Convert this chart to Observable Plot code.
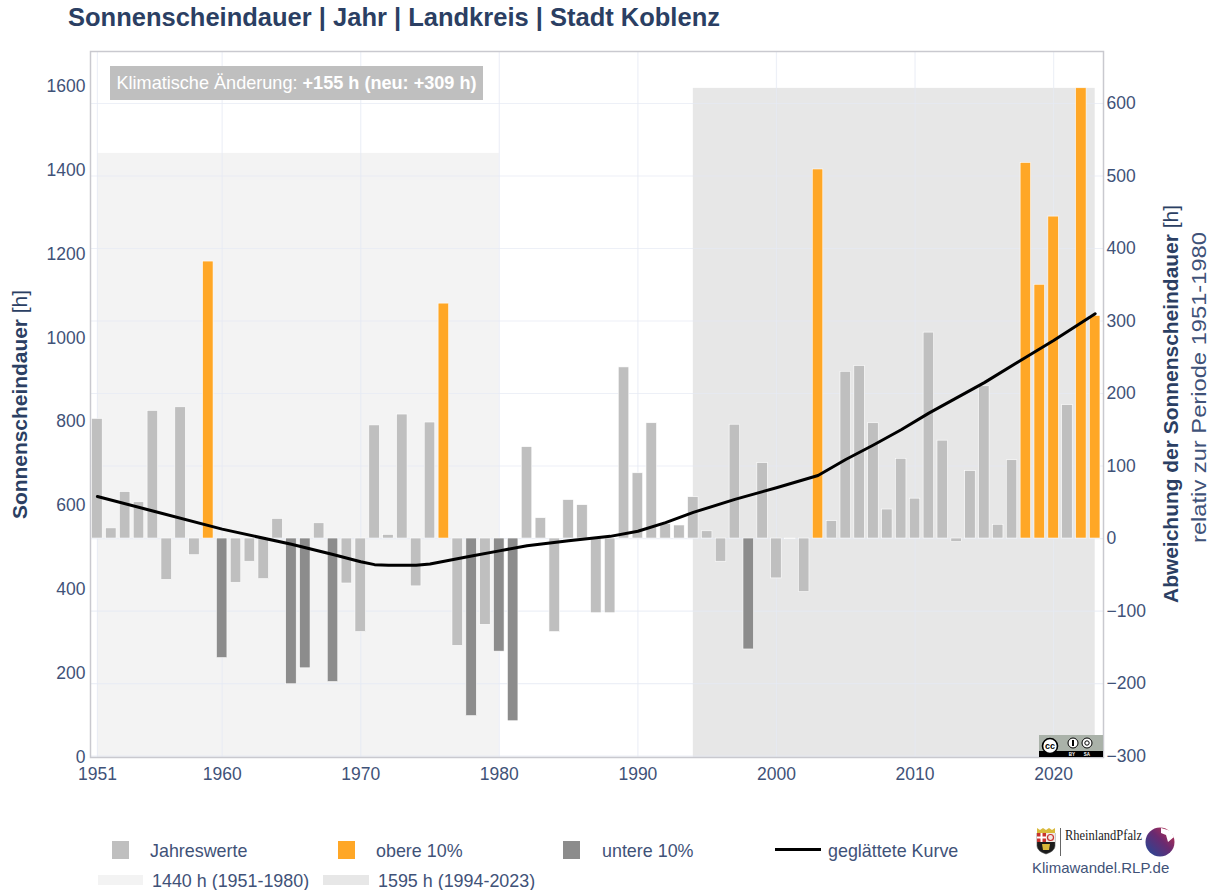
<!DOCTYPE html>
<html lang="de">
<head>
<meta charset="utf-8">
<script src="https://cdn.jsdelivr.net/npm/d3@7"></script>
<script src="https://cdn.jsdelivr.net/npm/@observablehq/plot@0.6"></script>
<style>
html,body{margin:0;padding:0;background:#fff;font-family:"Liberation Sans",Arial,sans-serif;overflow:hidden}
#page{position:relative;width:1216px;height:890px}
#title{position:absolute;left:68px;top:2px;font-size:25.500px;font-weight:bold;color:#2b3f63;line-height:30px;white-space:nowrap}
#chart{position:absolute;left:0;top:36px}
#note{position:absolute;left:110px;top:66px;width:373px;height:34px;background:#bfbfbf;color:#fff;font-size:18.100px;line-height:34px;text-align:center;white-space:nowrap}
.lg{position:absolute;font-size:17.900px;line-height:20px;color:#3f5278;white-space:nowrap}
.sw{position:absolute}
#cc{position:absolute;left:1039px;top:735px}
#logo{position:absolute;left:1030px;top:822px}
</style>
</head>
<body>
<div id="page">
<div id="title">Sonnenscheindauer | Jahr | Landkreis | Stadt Koblenz</div>
<div id="chart"></div>
<div id="note">Klimatische Änderung: <b>+155 h (neu: +309 h)</b></div>
<svg id="cc" width="64" height="22" viewBox="0 0 64 22">
<rect width="64" height="22" fill="#aab2a9"/><rect y="16" width="64" height="6" fill="#000"/>
<circle cx="11" cy="11" r="7.500" fill="#fff" stroke="#000" stroke-width="1.600"/>
<text x="11" y="14" font-size="9" font-weight="bold" text-anchor="middle" fill="#000">cc</text>
<circle cx="34" cy="8" r="5" fill="#fff" stroke="#000"/><rect x="33" y="5" width="2" height="6" fill="#000"/>
<circle cx="48" cy="8" r="5" fill="#fff" stroke="#000"/><circle cx="48" cy="8" r="2.200" fill="none" stroke="#000"/>
<text x="33" y="21" font-size="4.500" font-weight="bold" text-anchor="middle" fill="#fff">BY</text>
<text x="48" y="21" font-size="4.500" font-weight="bold" text-anchor="middle" fill="#fff">SA</text>
</svg>
<svg id="logo" width="150" height="36" viewBox="0 0 150 36">
<defs><linearGradient id="lg1" x1="0" y1="1" x2="1" y2="0"><stop offset="0" stop-color="#1f4a9a"/><stop offset=".55" stop-color="#6a2a70"/><stop offset="1" stop-color="#c8304a"/></linearGradient></defs>
<path d="M7 11H25V24Q25 29 16 32Q7 29 7 24Z" fill="#1c1c1c" stroke="#555" stroke-width=".6"/>
<path d="M7 6L10 8L13 6L16 8L19 6L22 8L25 6V11H7Z" fill="#d8b93a"/>
<rect x="7" y="11" width="9" height="9" fill="#c8322d"/><rect x="10.500" y="11" width="2" height="9" fill="#fff"/><rect x="7" y="14.500" width="9" height="2" fill="#fff"/>
<rect x="16" y="11" width="9" height="9" fill="#f1e9e4"/><circle cx="20.500" cy="15.500" r="3" fill="none" stroke="#c8322d" stroke-width="1.200"/>
<path d="M12 22L20 22L19 28L13 28Z" fill="#d8b93a"/>
<rect x="30" y="6" width="1" height="28" fill="#666"/>
<text x="35" y="18" font-family="Liberation Serif,serif" font-size="15" textLength="77" lengthAdjust="spacingAndGlyphs" fill="#222">RheinlandPfalz</text>
<circle cx="130" cy="20" r="14.500" fill="url(#lg1)"/>
<path d="M131 6L141 9L144 15L138 20L136 13L131 11Z" fill="#fff"/>
</svg>

<div class="sw" style="left:112px;top:841px;width:17px;height:18px;background:#bfbfbf"></div>
<div class="lg" style="left:150px;top:841px">Jahreswerte</div>
<div class="sw" style="left:338px;top:841px;width:17px;height:18px;background:#ffa726"></div>
<div class="lg" style="left:376px;top:841px">obere 10%</div>
<div class="sw" style="left:563px;top:841px;width:17px;height:18px;background:#8c8c8c"></div>
<div class="lg" style="left:602px;top:841px">untere 10%</div>
<div class="sw" style="left:775px;top:848px;width:46px;height:3px;background:#000"></div>
<div class="lg" style="left:828px;top:841px">geglättete Kurve</div>
<div class="sw" style="left:98px;top:875px;width:45px;height:10px;background:#f3f3f3"></div>
<div class="lg" style="left:152px;top:871px">1440 h (1951-1980)</div>
<div class="sw" style="left:323px;top:875px;width:46px;height:10px;background:#e7e7e7"></div>
<div class="lg" style="left:378px;top:871px">1595 h (1994-2023)</div>
<div class="lg" style="left:1032px;top:858px;font-size:15px">Klimawandel.RLP.de</div>
</div>

<script>
// Abweichung der Sonnenscheindauer [h] relativ zu 1951-1980, 1951 ... 2023
const firstYear = 1951;
const deviations = [
  165, 14, 64, 50, 176, -57, 181, -23, 382, -165,
  -61, -32, -56, 27, -201, -179, 21, -198, -62, -129,
  156, 5, 171, -66, 160, 324, -148, -245, -119, -156,
  -252, 126, 28, -129, 53, 46, -103, -103, 236, 90,
  159, 20, 18, 57, 10, -32, 157, -153, 104, -55,
  -1, -74, 509, 24, 230, 238, 159, 40, 110, 55,
  284, 135, -5, 93, 210, 19, 108, 518, 350, 444,
  184, 621, 307
];
const upperYears = [1959, 1976, 2003, 2018, 2019, 2020, 2022, 2023];
const lowerYears = [1960, 1965, 1966, 1968, 1978, 1980, 1981, 1998];
const curveYears = [1951, 1955, 1960, 1965, 1968, 1970, 1971, 1972, 1974, 1975, 1978, 1980, 1982, 1985, 1988, 1990, 1992, 1994, 1997, 2000, 2003, 2005, 2007, 2009, 2011, 2013, 2015, 2018, 2020, 2023];
const curveValues = [58, 38, 13, -8, -22, -32, -36, -37, -37, -35, -24, -17, -10, -3, 3, 10, 22, 36, 54, 70, 87, 109, 129, 150, 173, 194, 215, 250, 273, 310];
const hourTicks = [0, 200, 400, 600, 800, 1000, 1200, 1400, 1600];
const deviationTicks = [-300, -200, -100, 0, 100, 200, 300, 400, 500, 600];
const yearTicks = [1951, 1960, 1970, 1980, 1990, 2000, 2010, 2020];
const periods = [
  {from: 1951, to: 1980, hours: 1440, fill: "#f3f3f3"},
  {from: 1994, to: 2023, hours: 1595, fill: "#e7e7e7"}
];

// The left (hours) axis is independent of the right (deviation) axis.
const hourZero = -302, devPerHour = 0.5786;
const hoursToDev = h => hourZero + h * devPerHour;
const devToHours = d => String(Math.round((d - hourZero) / devPerHour));

const years = deviations.map((_, i) => firstYear + i);
const bars = years.map((year, i) => ({
  year, value: deviations[i],
  fill: upperYears.includes(year) ? "#ffa726" : lowerYears.includes(year) ? "#8c8c8c" : "#bfbfbf"
}));
const curve = curveYears.map((year, i) => ({year, value: curveValues[i]}));

const ink = "#3f5278", titleInk = "#2b3f63", grid = "#e6eaf4";
const font = "Liberation Sans, Arial, sans-serif";

const plot = Plot.plot({
  width: 1216, height: 764,
  marginTop: 15, marginBottom: 43, marginLeft: 90, marginRight: 113,
  style: {fontFamily: font, background: "transparent", overflow: "visible"},
  x: {domain: [1950.5, 2023.6]},
  y: {domain: [hourZero, 671.7]},
  marks: [
    Plot.rect(periods, {x1: "from", x2: "to", y1: hourZero, y2: d => hoursToDev(d.hours), fill: "fill"}),
    Plot.ruleX(yearTicks, {stroke: grid, strokeOpacity: 0.7, strokeWidth: 1.2}),
    Plot.ruleY(deviationTicks, {stroke: grid, strokeOpacity: 0.7, strokeWidth: 1.2}),
    Plot.rect(bars, {x1: d => d.year - 0.38, x2: d => d.year + 0.38, y1: 0, y2: "value", fill: "fill", stroke: "#fff", strokeWidth: 0.6}),
    Plot.line(curve, {x: "year", y: "value", stroke: "#000", strokeWidth: 3, curve: "linear", strokeLinejoin: "round"}),
    Plot.frame({stroke: "#c9c9cf", strokeWidth: 1.5}),
    Plot.axisX({ticks: yearTicks, tickFormat: d => String(d), tickSize: 0, tickPadding: 10, fontSize: 17.500, color: ink, label: null}),
    Plot.axisY({anchor: "left", ticks: hourTicks.map(hoursToDev), tickFormat: devToHours, tickSize: 0, tickPadding: 5, fontSize: 17.500, color: ink, label: null}),
    Plot.axisY({anchor: "right", ticks: deviationTicks, tickFormat: d => String(d).replace("-", "\u2212"), tickSize: 0, tickPadding: 3, fontSize: 17.500, color: ink, label: null}),
    () => {
      const ns = "http://www.w3.org/2000/svg";
      const g = document.createElementNS(ns, "g");
      const add = (x, y, len, parts) => {
        const t = document.createElementNS(ns, "text");
        t.setAttribute("transform", `translate(${x},${y}) rotate(-90)`);
        t.setAttribute("text-anchor", "middle");
        t.setAttribute("font-size", "20");
        t.setAttribute("fill", titleInk);
        t.setAttribute("textLength", len);
        t.setAttribute("lengthAdjust", "spacingAndGlyphs");
        for (const [s, w, fill] of parts) {
          const sp = document.createElementNS(ns, "tspan");
          sp.textContent = s;
          if (w) sp.setAttribute("font-weight", "bold");
          if (fill) sp.setAttribute("fill", fill);
          t.appendChild(sp);
        }
        g.appendChild(t);
      };
      add(27, 368.5, 229, [["Sonnenscheindauer", true], [" [h]", false]]);
      add(1178, 368, 398, [["Abweichung der Sonnenscheindauer", true], [" [h]", false]]);
      add(1206, 351.5, 311, [["relativ zur Periode 1951-1980", false, ink]]);
      return g;
    }
  ]
});
document.getElementById("chart").appendChild(plot);
</script>
</body>
</html>
